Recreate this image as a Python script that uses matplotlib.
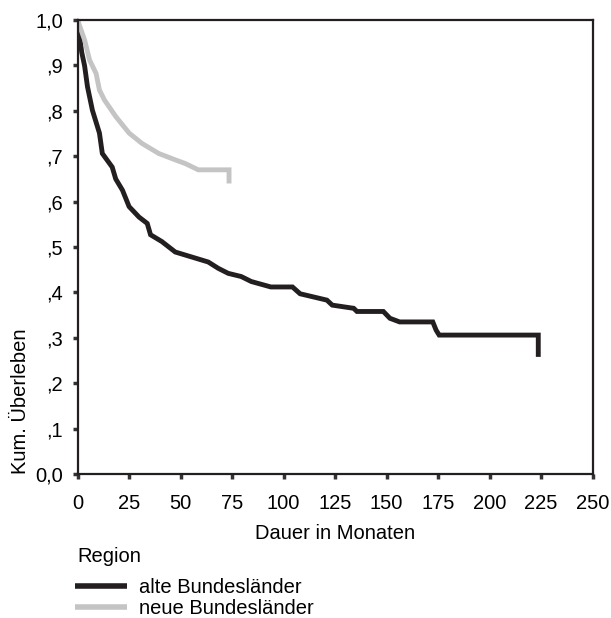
import matplotlib.pyplot as plt

plt.rcParams['font.family'] = ['Liberation Sans', 'DejaVu Sans']

# Kaplan-Meier curves (months, cumulative survival)
alte_t = [0, 1, 2, 3.4, 4.8, 7.2, 10.6, 12, 16.8, 18.5, 21.8, 25, 29.8, 33.8,
          35.4, 40.9, 47.4, 55.4, 63.4, 68.3, 73.1, 79.4, 84.3, 93.8, 104.3,
          108, 121, 123.6, 134, 135.6, 148.4, 151.6, 156.3, 172.4, 174, 175.5,
          223.6, 223.6]
alte_s = [1.0, 0.964, 0.929, 0.899, 0.853, 0.801, 0.751, 0.706, 0.676, 0.650,
          0.625, 0.589, 0.566, 0.552, 0.527, 0.512, 0.489, 0.478, 0.467, 0.453,
          0.442, 0.435, 0.424, 0.412, 0.412, 0.397, 0.383, 0.372, 0.365, 0.358,
          0.358, 0.343, 0.335, 0.335, 0.317, 0.306, 0.306, 0.258]

neue_t = [0, 3.4, 5.8, 9, 10.6, 13, 18.6, 25, 31.3, 39.4, 47.4, 52.2, 55.4,
          58.6, 73.5, 73.5]
neue_s = [1.0, 0.956, 0.912, 0.882, 0.846, 0.824, 0.787, 0.751, 0.728, 0.706,
          0.692, 0.684, 0.677, 0.670, 0.670, 0.640]

x_ticks = [0, 25, 50, 75, 100, 125, 150, 175, 200, 225, 250]
y_ticks = [0.0, 0.1, 0.2, 0.3, 0.4, 0.5, 0.6, 0.7, 0.8, 0.9, 1.0]
y_labels = ['0,0', ',1', ',2', ',3', ',4', ',5', ',6', ',7', ',8', ',9', '1,0']

fs = 14.5

fig = plt.figure(figsize=(6.11, 6.18), dpi=100)
ax = fig.add_axes([0.127, 0.233, 0.843, 0.7346])

ax.plot(alte_t, alte_s, color='#231f20', lw=3.5, label='alte Bundesländer',
        solid_joinstyle='miter', solid_capstyle='butt')
ax.plot(neue_t, neue_s, color='#c4c4c4', lw=3.5, label='neue Bundesländer',
        solid_joinstyle='miter', solid_capstyle='butt')

ax.set_xlim(0, 250)
ax.set_ylim(0, 1.0)
ax.set_xticks(x_ticks)
ax.set_yticks(y_ticks)
ax.set_yticklabels(y_labels)
ax.tick_params(direction='out', length=3.5, width=2.5, color='#333333',
               labelsize=fs)
ax.tick_params(axis='x', pad=11)
ax.tick_params(axis='y', pad=7)
for sp in ax.spines.values():
    sp.set_linewidth(1.6)
    sp.set_color('#231f20')

ax.set_xlabel('Dauer in Monaten', fontsize=fs, labelpad=8)
fig.text(0.033, 0.35, 'Kum. Überleben', rotation=90, fontsize=fs,
         ha='center', va='center')

fig.text(0.127, 1 - 556 / 618, 'Region', fontsize=fs, ha='left', va='center')
leg = ax.legend(loc='upper left', bbox_to_anchor=(0.122, 0.064),
                bbox_transform=fig.transFigure, frameon=False,
                fontsize=fs, handlelength=2.6, handletextpad=0.6,
                labelspacing=0.08, borderaxespad=0, borderpad=0)
for h in leg.legend_handles:
    h.set_linewidth(4)

fig.savefig('out.png', dpi=100)
